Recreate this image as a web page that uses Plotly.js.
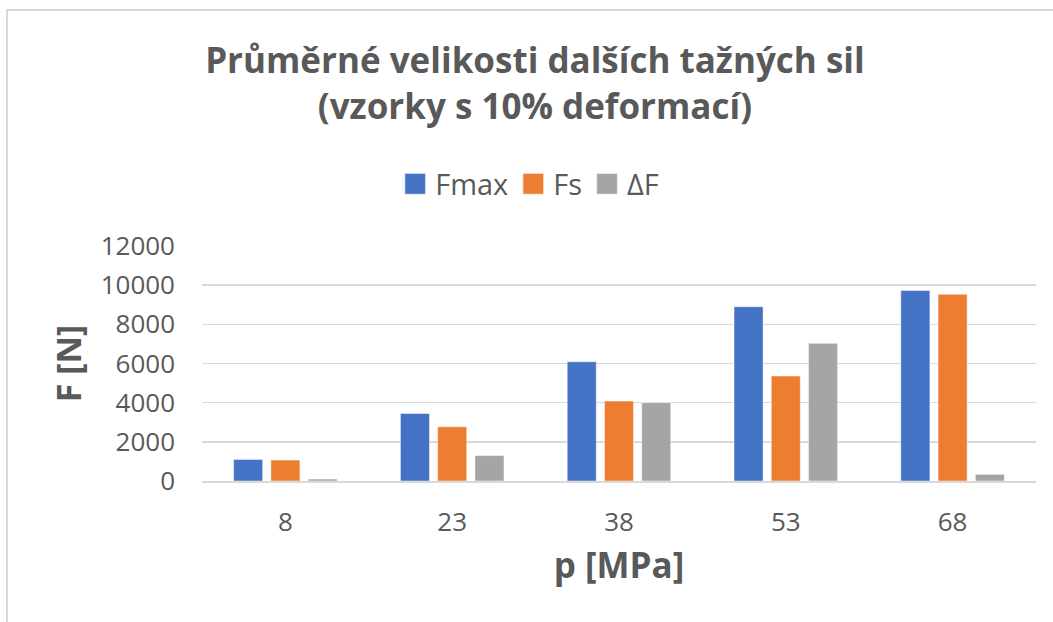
<!DOCTYPE html>
<html>
<head>
<meta charset="utf-8">
<script src="https://cdn.plot.ly/plotly-3.0.1.min.js"></script>
<style>
  html, body { margin: 0; padding: 0; background: #fff; }
  #wrap { position: relative; width: 1053px; height: 622px; overflow: hidden; }
  #chart { position: absolute; left: 0; top: 0; width: 1053px; height: 622px; }
  #frame { position: absolute; left: 6px; top: 9px; width: 1100px; height: 700px;
           border-left: 2px solid #D9D9D9; border-top: 2px solid #D9D9D9; pointer-events: none; }
</style>
</head>
<body>
<div id="wrap">
  <div id="chart"></div>
  <div id="frame"></div>
</div>
<script>
// Data
const categories = ["8", "23", "38", "53", "68"];
const fmax = [1100, 3450, 6090, 8900, 9730];
const fs   = [1070, 2770, 4080, 5360, 9540];
const dF   = [100, 1300, 4000, 7030, 340];
const seriesNames = ["Fmax", "Fs", "ΔF"];
const titleText = "Průměrné velikosti dalších tažných sil<br>(vzorky s 10% deformací)";
const xTitle = "p [MPa]";
const yTitle = "F [N]";

const colors = ["#4472C4", "#ED7D31", "#A5A5A5"];
const textColor = "#595959";
const font = "Open Sans, sans-serif";

const values = [fmax, fs, dF];
const traces = values.map((v, i) => ({
  type: "bar",
  name: seriesNames[i],
  x: categories,
  y: v,
  marker: { color: colors[i], line: { color: "rgba(255,255,255,0.6)", width: 0.8 } },
  hoverinfo: "x+y+name"
}));

const layout = {
  width: 1053,
  height: 622,
  paper_bgcolor: "#ffffff",
  plot_bgcolor: "#ffffff",
  margin: { l: 202, r: 17, t: 246, b: 141, pad: 0 },
  font: { family: font, color: textColor },
  title: {
    text: titleText,
    font: { family: font, size: 35, color: textColor, weight: "bold" },
    x: 0.508, xanchor: "center", xref: "container",
    y: 1 - 73 / 622, yanchor: "top", yref: "container"
  },
  barmode: "group",
  bargap: 0.33,
  bargroupgap: 0.22,
  showlegend: true,
  legend: {
    orientation: "h",
    x: 0.503, xanchor: "center", xref: "container",
    y: 1 - 184 / 622, yanchor: "middle", yref: "container",
    font: { family: font, size: 29, color: textColor },
    itemwidth: 30,
    tracegroupgap: 0
  },
  xaxis: {
    type: "category",
    showgrid: false,
    showline: true,
    linecolor: "#D9D9D9",
    linewidth: 1.5,
    ticks: "",
    tickfont: { family: font, size: 26, color: textColor },
    ticklabelstandoff: 17,
    title: {
      text: xTitle,
      font: { family: font, size: 35, color: textColor, weight: "bold" },
      standoff: 16
    }
  },
  yaxis: {
    range: [0, 12000],
    dtick: 2000,
    tick0: 0,
    tickformat: "d",
    showgrid: true,
    gridcolor: "#D9D9D9",
    gridwidth: 1.5,
    zeroline: false,
    showline: false,
    ticks: "",
    tickfont: { family: font, size: 26, color: textColor },
    ticklabelstandoff: 26,
    title: {
      text: yTitle,
      font: { family: font, size: 34, color: textColor, weight: "bold" },
      standoff: 8
    }
  }
};

Plotly.newPlot("chart", traces, layout, { staticPlot: true, displayModeBar: false }).then(gd => {
  // enlarge legend keys to match the reference's larger square swatches
  gd.querySelectorAll(".legend .legendpoints path").forEach(p => {
    const t = p.getAttribute("transform") || "";
    p.setAttribute("transform", t + " scale(1.75)");
  });
});
</script>
</body>
</html>
